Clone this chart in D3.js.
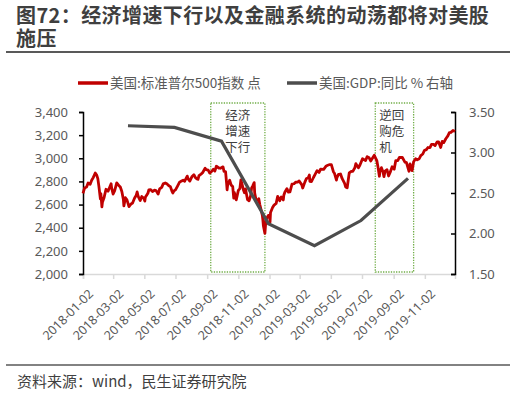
<!DOCTYPE html>
<html>
<head>
<meta charset="utf-8">
<script src="https://cdn.jsdelivr.net/npm/d3@7"></script>
<style>
  body { margin: 0; background: #fff; }
  svg { font-family: "Noto Sans CJK SC", "Noto Sans", sans-serif; }
</style>
</head>
<body>
<div id="chart"></div>
<script>
// S&P 500 closes (date, points)
var spx = [
  ["2018-01-02",2696],["2018-01-05",2743],["2018-01-09",2751],["2018-01-12",2786],["2018-01-16",2776],
  ["2018-01-19",2810],["2018-01-22",2833],["2018-01-26",2873],["2018-01-29",2853],["2018-01-31",2824],
  ["2018-02-02",2762],["2018-02-05",2649],["2018-02-06",2695],["2018-02-08",2581],["2018-02-09",2620],
  ["2018-02-12",2656],["2018-02-16",2732],["2018-02-20",2716],["2018-02-23",2747],["2018-02-26",2780],
  ["2018-02-27",2744],["2018-03-02",2691],["2018-03-05",2721],["2018-03-09",2787],["2018-03-13",2765],
  ["2018-03-16",2752],["2018-03-19",2713],["2018-03-22",2644],["2018-03-23",2588],["2018-03-26",2659],
  ["2018-03-29",2641],["2018-04-02",2582],["2018-04-06",2605],["2018-04-09",2613],["2018-04-13",2656],
  ["2018-04-16",2678],["2018-04-18",2709],["2018-04-20",2670],["2018-04-24",2635],["2018-04-27",2670],
  ["2018-05-01",2655],["2018-05-03",2630],["2018-05-04",2663],["2018-05-09",2698],["2018-05-11",2728],
  ["2018-05-14",2730],["2018-05-18",2713],["2018-05-22",2724],["2018-05-25",2721],["2018-05-29",2690],
  ["2018-06-01",2735],["2018-06-05",2749],["2018-06-08",2779],["2018-06-12",2787],["2018-06-15",2780],
  ["2018-06-19",2763],["2018-06-22",2755],["2018-06-25",2717],["2018-06-27",2700],["2018-06-29",2718],
  ["2018-07-02",2727],["2018-07-06",2760],["2018-07-10",2794],["2018-07-13",2801],["2018-07-17",2810],
  ["2018-07-20",2802],["2018-07-25",2846],["2018-07-27",2819],["2018-07-30",2803],["2018-08-03",2840],
  ["2018-08-07",2858],["2018-08-10",2833],["2018-08-13",2822],["2018-08-15",2818],["2018-08-17",2850],
  ["2018-08-21",2863],["2018-08-24",2875],["2018-08-29",2914],["2018-08-31",2902],["2018-09-04",2897],
  ["2018-09-07",2872],["2018-09-11",2888],["2018-09-14",2905],["2018-09-17",2889],["2018-09-20",2931],
  ["2018-09-25",2916],["2018-09-28",2914],["2018-10-03",2926],["2018-10-05",2886],["2018-10-08",2884],
  ["2018-10-10",2786],["2018-10-11",2728],["2018-10-12",2767],["2018-10-16",2810],["2018-10-19",2768],
  ["2018-10-22",2756],["2018-10-24",2656],["2018-10-25",2706],["2018-10-29",2641],["2018-11-02",2723],
  ["2018-11-05",2738],["2018-11-07",2814],["2018-11-09",2781],["2018-11-12",2726],["2018-11-14",2702],
  ["2018-11-16",2736],["2018-11-20",2642],["2018-11-23",2633],["2018-11-26",2674],["2018-11-28",2744],
  ["2018-11-30",2760],["2018-12-03",2790],["2018-12-04",2700],["2018-12-07",2633],["2018-12-10",2638],
  ["2018-12-12",2651],["2018-12-14",2600],["2018-12-17",2546],["2018-12-19",2507],["2018-12-20",2467],
  ["2018-12-21",2417],["2018-12-24",2351],["2018-12-26",2468],["2018-12-28",2486],["2018-12-31",2507],
  ["2019-01-02",2510],["2019-01-03",2448],["2019-01-04",2532],["2019-01-08",2574],["2019-01-11",2596],
  ["2019-01-15",2610],["2019-01-18",2671],["2019-01-22",2633],["2019-01-25",2665],["2019-01-29",2640],
  ["2019-01-30",2681],["2019-02-01",2707],["2019-02-05",2738],["2019-02-08",2708],["2019-02-11",2710],
  ["2019-02-15",2776],["2019-02-19",2780],["2019-02-22",2793],["2019-02-26",2794],["2019-03-01",2804],
  ["2019-03-06",2772],["2019-03-08",2743],["2019-03-12",2792],["2019-03-15",2823],["2019-03-19",2833],
  ["2019-03-21",2855],["2019-03-22",2801],["2019-03-25",2798],["2019-03-29",2834],["2019-04-02",2867],
  ["2019-04-05",2893],["2019-04-09",2878],["2019-04-12",2907],["2019-04-18",2905],["2019-04-23",2934],
  ["2019-04-26",2940],["2019-04-30",2946],["2019-05-03",2946],["2019-05-07",2884],["2019-05-09",2871],
  ["2019-05-13",2812],["2019-05-14",2834],["2019-05-17",2860],["2019-05-21",2864],["2019-05-24",2826],
  ["2019-05-29",2783],["2019-05-31",2752],["2019-06-03",2745],["2019-06-07",2873],["2019-06-11",2886],
  ["2019-06-14",2887],["2019-06-18",2918],["2019-06-20",2954],["2019-06-25",2917],["2019-06-28",2942],
  ["2019-07-03",2996],["2019-07-09",2980],["2019-07-12",3014],["2019-07-16",3004],["2019-07-19",2977],
  ["2019-07-23",3005],["2019-07-26",3026],["2019-07-31",2980],["2019-08-02",2932],["2019-08-05",2845],
  ["2019-08-06",2882],["2019-08-09",2919],["2019-08-12",2883],["2019-08-14",2841],["2019-08-16",2889],
  ["2019-08-20",2901],["2019-08-23",2847],["2019-08-26",2878],["2019-08-30",2927],["2019-09-03",2906],
  ["2019-09-06",2979],["2019-09-10",2979],["2019-09-13",3007],["2019-09-19",3007],["2019-09-24",2967],
  ["2019-09-27",2962],["2019-10-02",2888],["2019-10-04",2952],["2019-10-08",2893],["2019-10-11",2970],
  ["2019-10-15",2996],["2019-10-18",2986],["2019-10-22",2996],["2019-10-25",3023],["2019-10-29",3037],
  ["2019-11-01",3067],["2019-11-05",3075],["2019-11-08",3093],["2019-11-12",3092],["2019-11-15",3120],
  ["2019-11-19",3120],["2019-11-22",3110],["2019-11-26",3141],["2019-11-29",3141],["2019-12-03",3093],
  ["2019-12-06",3146],["2019-12-09",3136],["2019-12-13",3169],["2019-12-17",3193],["2019-12-20",3221],
  ["2019-12-23",3224],["2019-12-27",3240],["2019-12-31",3231]
];

// US GDP yoy %, quarter ends (right axis)
var gdpDates = ["2018-03-31","2018-06-30","2018-09-30","2018-12-31","2019-03-31","2019-06-30","2019-09-30"];
var gdpValues = [3.33, 3.31, 3.14, 2.12, 1.85, 2.16, 2.68];

var leftTicks = [2000, 2200, 2400, 2600, 2800, 3000, 3200, 3400];
var rightTicks = [1.5, 2.0, 2.5, 3.0, 3.5];
var xTickDates = ["2018-01-02","2018-03-02","2018-05-02","2018-07-02","2018-09-02","2018-11-02",
                  "2019-01-02","2019-03-02","2019-05-02","2019-07-02","2019-09-02","2019-11-02"];

// shaded periods (dotted boxes)
var boxStarts = ["2018-09-09", "2019-07-28"];
var boxEnds = ["2018-12-24", "2019-10-11"];
var boxLabels = [["经济", "增速", "下行"], ["逆回", "购危", "机"]];

var title = ["图72：经济增速下行以及金融系统的动荡都将对美股", "施压"];
var legendNames = ["美国:标准普尔500指数 点", "美国:GDP:同比 % 右轴"];
var source = "资料来源：wind，民生证券研究院";

var parse = d3.timeParse("%Y-%m-%d");
var W = 516, H = 394;
var margin = {top: 112, right: 61, bottom: 120, left: 83};
var width = W - margin.left - margin.right,
    height = H - margin.top - margin.bottom;

var svg = d3.select("#chart").append("svg")
    .attr("width", W)
    .attr("height", H);

// title (one text, two lines) + rules
var titleText = svg.append("text")
    .attr("font-size", 20).attr("font-weight", "bold").attr("fill", "#3f3f3f")
    .attr("letter-spacing", 0.4);
titleText.selectAll("tspan").data(title).enter().append("tspan")
    .attr("x", 16).attr("y", function(d, i) { return 23 + i * 23; })
    .text(function(d) { return d; });
svg.append("line").attr("x1", 6).attr("x2", 510).attr("y1", 52).attr("y2", 52)
    .attr("stroke", "#595959").attr("stroke-width", 2);
svg.append("line").attr("x1", 6).attr("x2", 510).attr("y1", 365).attr("y2", 365)
    .attr("stroke", "#595959").attr("stroke-width", 1.5);
svg.append("text").attr("x", 17).attr("y", 387).attr("font-size", 15).attr("fill", "#404040")
    .text(source);

var g = svg.append("g")
    .attr("transform", "translate(" + margin.left + "," + margin.top + ")");

var x = d3.scaleTime()
    .domain([parse("2018-01-02"), parse("2019-12-31")])
    .range([0, width]);
var y = d3.scaleLinear().domain([2000, 3400]).range([height, 0]);
var y2 = d3.scaleLinear().domain([1.5, 3.5]).range([height, 0]);

// dotted boxes
boxStarts.forEach(function(s, i) {
  var x0 = x(parse(s)), x1 = x(parse(boxEnds[i]));
  g.append("rect")
      .attr("x", x0).attr("y", -9)
      .attr("width", x1 - x0).attr("height", height + 7)
      .attr("fill", "none").attr("stroke", "#70ad47")
      .attr("stroke-width", 1.3).attr("stroke-dasharray", "1.3,1.3");
  var lbl = g.append("text")
      .attr("text-anchor", i == 0 ? "middle" : "start")
      .attr("font-size", 12.5).attr("fill", "#404040");
  lbl.selectAll("tspan").data(boxLabels[i]).enter().append("tspan")
      .attr("x", i == 0 ? (x0 + x1) / 2 : x0 + 4)
      .attr("y", function(d, j) { return 8 + j * 16; })
      .text(function(d) { return d; });
});

// x axis
var xAxis = g.append("g")
    .attr("transform", "translate(0," + height + ")")
    .call(d3.axisBottom(x).tickValues(xTickDates.map(parse)).tickSize(5).tickFormat(d3.timeFormat("%Y-%m-%d")));
xAxis.select(".domain").attr("stroke", "#d9d9d9").attr("stroke-width", 1.5);
xAxis.selectAll(".tick line").attr("stroke", "#d9d9d9").attr("stroke-width", 1.5);
xAxis.selectAll(".tick text")
    .attr("font-size", 12.5).attr("fill", "#595959")
    .attr("font-family", "'Noto Sans', sans-serif")
    .attr("text-anchor", "end")
    .attr("dx", 0).attr("dy", 0)
    .attr("transform", "translate(5,15) rotate(-45)");

// left axis
var yAxis = g.append("g")
    .call(d3.axisLeft(y).tickValues(leftTicks).tickSize(4).tickPadding(11).tickFormat(d3.format(",")));
yAxis.select(".domain").attr("stroke", "#000").attr("stroke-width", 1.5);
yAxis.selectAll(".tick line").attr("stroke", "#000").attr("stroke-width", 1.5);
yAxis.selectAll(".tick text").attr("font-size", 13).attr("fill", "#595959")
    .attr("font-family", "'Noto Sans', sans-serif");

// right axis (ticks point inward)
var y2Axis = g.append("g")
    .attr("transform", "translate(" + width + ",0)")
    .call(d3.axisRight(y2).tickValues(rightTicks).tickSize(-4).tickPadding(14).tickFormat(d3.format(".2f")));
y2Axis.select(".domain").attr("stroke", "#000").attr("stroke-width", 1.5);
y2Axis.selectAll(".tick line").attr("stroke", "#000").attr("stroke-width", 1.5);
y2Axis.selectAll(".tick text").attr("font-size", 13).attr("fill", "#595959")
    .attr("font-family", "'Noto Sans', sans-serif");

// S&P 500 line
var spxData = spx.map(function(d) { return {date: parse(d[0]), value: d[1]}; });
g.append("path")
    .datum(spxData)
    .attr("fill", "none").attr("stroke", "#c00000").attr("stroke-width", 2.8)
    .attr("stroke-linejoin", "round")
    .attr("d", d3.line().x(function(d) { return x(d.date); }).y(function(d) { return y(d.value); }));

// GDP line
var gdpData = gdpDates.map(function(d, i) { return {date: parse(d), value: gdpValues[i]}; });
g.append("path")
    .datum(gdpData)
    .attr("fill", "none").attr("stroke", "#4d4d4d").attr("stroke-width", 3.2)
    .attr("d", d3.line().x(function(d) { return x(d.date); }).y(function(d) { return y2(d.value); }));

// legend
var legendX = [78, 287], legendColors = ["#c00000", "#4d4d4d"];
legendNames.forEach(function(name, i) {
  svg.append("line")
      .attr("x1", legendX[i]).attr("x2", legendX[i] + 30)
      .attr("y1", 83).attr("y2", 83)
      .attr("stroke", legendColors[i]).attr("stroke-width", 3.5);
  svg.append("text")
      .attr("x", legendX[i] + 32).attr("y", 87.5)
      .attr("font-size", 13.5).attr("fill", "#595959")
      .text(name);
});
</script>
</body>
</html>
